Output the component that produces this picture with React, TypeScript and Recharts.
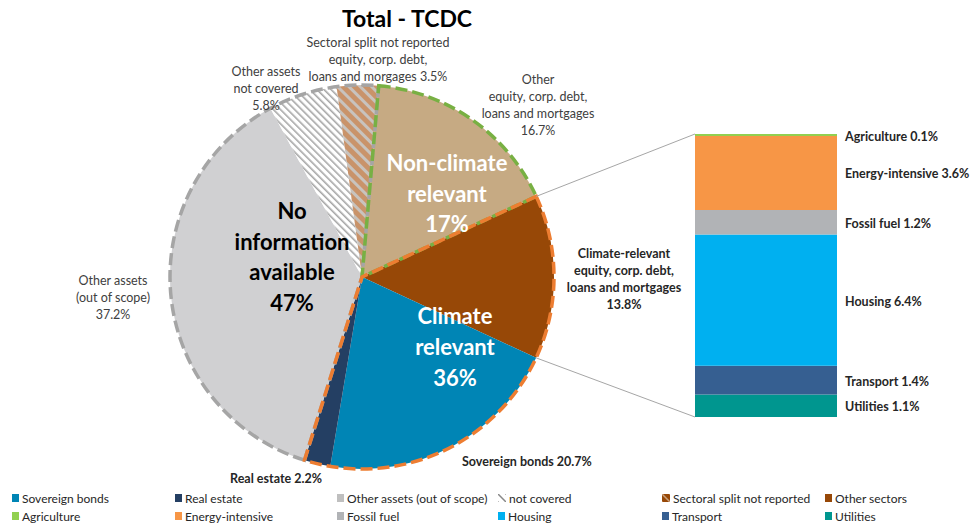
import React from "react";
import { Bar, BarChart, Cell, Pie, PieChart, XAxis, YAxis } from "recharts";

// pie slices, clockwise from the top
const sliceNames = [
  "Non-climate",
  "Other sectors",
  "Sovereign bonds",
  "Real estate",
  "Other assets (out of scope)",
  "not covered",
  "Sectoral split not reported",
];
const sliceValues = [16.7, 13.8, 20.7, 2.2, 37.2, 5.8, 3.5];
const sliceFills = [
  "#C6AA83",
  "#974807",
  "#0085B5",
  "#243F63",
  "#D0D0D2",
  "url(#hatchGrey)",
  "url(#hatchTan)",
];

// groups that get the dashed outline
const groupNames = ["Non-climate relevant", "Climate relevant", "No information available"];
const groupMembers = [[0], [1, 2, 3], [4, 5, 6]];
const groupStrokes = ["#78B043", "#ED7D31", "#A5A5A5"];

// breakdown of the climate-relevant "other sectors" slice (top to bottom)
const sectorNames = ["Agriculture", "Energy-intensive", "Fossil fuel", "Housing", "Transport", "Utilities"];
const sectorValues = [0.1, 3.6, 1.2, 6.4, 1.4, 1.1];
const sectorColors = ["#92D050", "#F79646", "#B1B3B6", "#00B0F0", "#365F91", "#00968F"];

const legendNames = [
  "Sovereign bonds", "Real estate", "Other assets (out of scope)", "not covered", "Sectoral split not reported", "Other sectors",
  "Agriculture", "Energy-intensive", "Fossil fuel", "Housing", "Transport", "Utilities",
];
const legendColors = [
  "#0085B5", "#243F63", "#BFBFBF", "hatch", "tanhatch", "#974807",
  "#92D050", "#F79646", "#B1B3B6", "#00B0F0", "#365F91", "#00968F",
];

const FONT = "Lato, 'Liberation Sans', sans-serif";
const CX = 362;
const CY = 277;
const R = 192;
const START = 85;

const groupValues = groupMembers.map((m) => +m.reduce((s, i) => s + sliceValues[i], 0).toFixed(1));
const sliceData = sliceNames.map((name, i) => ({ name, value: sliceValues[i] }));
const groupData = groupNames.map((name, i) => ({ name, value: groupValues[i] }));
const total = sliceValues.reduce((a, b) => a + b, 0);
const sectorTotal = sectorValues.reduce((a, b) => a + b, 0);
const barRow: Record<string, number | string> = { name: "Other sectors" };
sectorNames.forEach((n, i) => (barRow[n] = sectorValues[i]));

const BAR_LEFT = 695;
const BAR_TOP = 134;
const BAR_W = 142;
const BAR_H = 283;
const PAD = 12;

const edgePoint = (cum: number) => {
  const a = ((START - (360 * cum) / total) * Math.PI) / 180;
  return { x: CX + R * Math.cos(a), y: CY - R * Math.sin(a) };
};

const Lines = ({ x, y, lines, size = 12.5, weight = 400, fill = "#404040", lh = 17, anchor = "middle" }: any) => (
  <text x={x} y={y} fontSize={size} fontWeight={weight} fill={fill} textAnchor={anchor} fontFamily={FONT}>
    {lines.map((l: string, i: number) => (
      <tspan key={i} x={x} dy={i === 0 ? 0 : lh}>
        {l}
      </tspan>
    ))}
  </text>
);

const sectorLabel = (i: number) => (props: any) => {
  const { x, y, width, height } = props;
  return (
    <text
      x={x + width + 8}
      y={y + height / 2 + 1}
      dominantBaseline="central"
      fontSize={12.5}
      fontWeight={700}
      fill="#262626"
      fontFamily={FONT}
    >
      {`${sectorNames[i]} ${sectorValues[i]}%`}
    </text>
  );
};

const LegendIcon = ({ c }: { c: string }) => {
  if (c === "hatch" || c === "tanhatch") {
    return (
      <svg width={8} height={8} style={{ marginRight: 3 }}>
        <rect width={8} height={8} fill={c === "hatch" ? "#fff" : "#974807"} />
        <path d="M0 0L8 8M-4 4L4 12M4 -4L12 4" stroke={c === "hatch" ? "#888" : "#C9A27F"} strokeWidth={1.5} />
      </svg>
    );
  }
  return <span style={{ display: "inline-block", width: 7, height: 8, background: c, marginRight: 3 }} />;
};

export default function App() {
  const p1 = edgePoint(sliceValues[0]);
  const p2 = edgePoint(sliceValues[0] + sliceValues[1]);
  return (
    <div style={{ position: "absolute", left: 0, top: 0, width: 978, height: 529, background: "#fff", fontFamily: FONT }}>
      <div style={{ position: "absolute", left: 0, top: 0 }}>
        <PieChart width={978} height={480} margin={{ top: 0, right: 0, bottom: 0, left: 0 }}>
          <defs>
            <pattern id="hatchGrey" width={5} height={5} patternUnits="userSpaceOnUse" patternTransform="rotate(-45)">
              <rect width={5} height={5} fill="#fff" />
              <rect width={1.6} height={5} fill="#A6A6A6" />
            </pattern>
            <pattern id="hatchTan" width={8} height={8} patternUnits="userSpaceOnUse" patternTransform="rotate(-45)">
              <rect width={8} height={8} fill="#C9936A" />
              <rect width={3} height={8} fill="#C8C3BE" />
            </pattern>
          </defs>
          <Pie
            data={sliceData}
            dataKey="value"
            cx={CX}
            cy={CY}
            outerRadius={R}
            startAngle={START}
            endAngle={START - 360}
            stroke="none"
            isAnimationActive={false}
          >
            {sliceData.map((d, i) => (
              <Cell key={d.name} fill={sliceFills[i]} />
            ))}
          </Pie>
          {[2, 0, 1].map((g) => (
            <Pie
              key={g}
              data={groupData}
              dataKey="value"
              cx={CX}
              cy={CY}
              outerRadius={R}
              startAngle={START}
              endAngle={START - 360}
              fill="none"
              isAnimationActive={false}
            >
              {groupData.map((d, i) => (
                <Cell
                  key={d.name}
                  fill="none"
                  stroke={i === g ? groupStrokes[i] : "none"}
                  strokeWidth={3.5}
                  strokeDasharray="12 5"
                />
              ))}
            </Pie>
          ))}
        </PieChart>
      </div>

      <div style={{ position: "absolute", left: BAR_LEFT, top: BAR_TOP - PAD }}>
        <BarChart
          width={BAR_W + 170}
          height={BAR_H + PAD * 2}
          data={[barRow]}
          margin={{ top: PAD, right: 170, bottom: PAD, left: 0 }}
          barCategoryGap={0}
        >
          <XAxis dataKey="name" hide />
          <YAxis type="number" domain={[0, sectorTotal]} hide />
          {sectorNames
            .map((n, i) => (
              <Bar key={n} dataKey={n} stackId="s" fill={sectorColors[i]} isAnimationActive={false} label={sectorLabel(i)} />
            ))
            .reverse()}
        </BarChart>
      </div>

      <svg width={978} height={529} style={{ position: "absolute", left: 0, top: 0, pointerEvents: "none" }}>
        <line x1={p1.x} y1={p1.y} x2={BAR_LEFT} y2={BAR_TOP} stroke="#A6A6A6" strokeWidth={1} />
        <line x1={p2.x} y1={p2.y} x2={BAR_LEFT} y2={BAR_TOP + BAR_H} stroke="#A6A6A6" strokeWidth={1} />
        <text x={407} y={27} textAnchor="middle" fontSize={23} fontWeight={700} fill="#000" fontFamily={FONT}>
          Total - TCDC
        </text>
        <Lines x={378} y={47} lines={["Sectoral split not reported", "equity, corp. debt,", "loans and morgages  3.5%"]} />
        <Lines x={266} y={76} lines={["Other assets", "not covered", "5.8%"]} />
        <Lines x={538} y={84} lines={["Other", "equity, corp. debt,", "loans and mortgages", "16.7%"]} />
        <Lines x={113} y={285} lines={["Other assets", "(out of scope)", "37.2%"]} />
        <Lines
          x={624}
          y={258}
          weight={700}
          fill="#262626"
          lines={["Climate-relevant", "equity, corp. debt,", "loans and mortgages", "13.8%"]}
        />
        <Lines x={462} y={466} weight={700} fill="#262626" anchor="start" lines={["Sovereign bonds 20.7%"]} />
        <Lines x={276} y={483} weight={700} fill="#262626" lines={["Real estate 2.2%"]} />
        <Lines x={447} y={171} size={22} weight={700} fill="#fff" lh={30.5} lines={["Non-climate", "relevant", "17%"]} />
        <Lines x={455} y={324} size={22} weight={700} fill="#fff" lh={31} lines={["Climate", "relevant", "36%"]} />
        <Lines
          x={292}
          y={219}
          size={22}
          weight={700}
          fill="#000"
          lh={30.5}
          lines={["No", "information", "available", "47%"]}
        />
      </svg>

      <div
        style={{
          position: "absolute",
          left: 12,
          top: 491,
          width: 978,
          display: "grid",
          gridTemplateColumns: "163px 162px 161px 164px 163px 150px",
          rowGap: 4,
          fontSize: 12,
          color: "#262626",
        }}
      >
        {legendNames.map((n, i) => (
          <div key={n} style={{ display: "flex", alignItems: "center", height: 14, whiteSpace: "nowrap" }}>
            <LegendIcon c={legendColors[i]} />
            {n}
          </div>
        ))}
      </div>
    </div>
  );
}
